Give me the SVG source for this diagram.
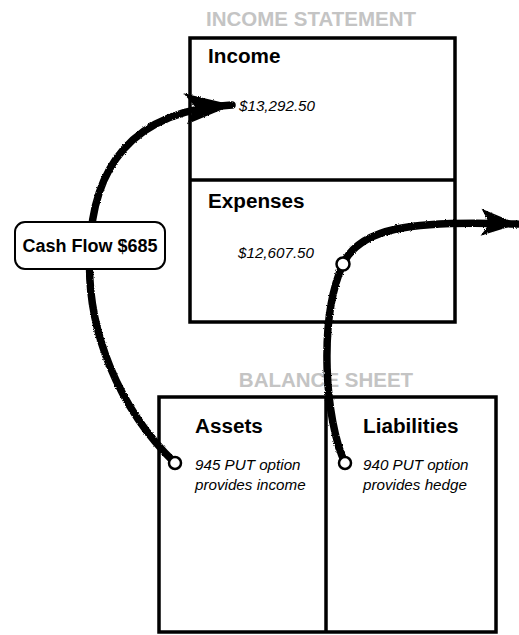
<svg xmlns="http://www.w3.org/2000/svg" width="519" height="635" viewBox="0 0 519 635">
<style>
.box{fill:none;stroke:#000;stroke-width:3.5}
.title{font-family:"Liberation Sans",Arial,sans-serif;font-weight:bold;font-size:20.5px;fill:#c4c4c4;text-anchor:middle}
.head{font-family:"Liberation Sans",Arial,sans-serif;font-weight:bold;font-size:20.7px;fill:#000}
.val{font-family:"Liberation Sans",Arial,sans-serif;font-style:italic;font-size:15.2px;fill:#000}
.lbl{font-family:"Liberation Sans",Arial,sans-serif;font-weight:bold;font-size:18px;fill:#000;text-anchor:middle}
.flow{fill:none;stroke:#000;stroke-width:7.5;stroke-linecap:round}
.dot{fill:#fff;stroke:#000;stroke-width:2.5}
</style>
<defs>
<filter id="rough" x="-20%" y="-20%" width="140%" height="140%">
<feTurbulence type="fractalNoise" baseFrequency="0.9" numOctaves="2" seed="3" result="n"/>
<feDisplacementMap in="SourceGraphic" in2="n" scale="2.5" xChannelSelector="R" yChannelSelector="G"/>
</filter>
<marker id="headA" markerUnits="userSpaceOnUse" viewBox="-52 -20 54 40" refX="0" refY="0" markerWidth="54" markerHeight="40" orient="auto">
<path d="M1,0 L-48,-14 Q-40,-4 -37,0 Q-40,6 -46,17 Z" fill="#000"/>
</marker>
<marker id="headB" markerUnits="userSpaceOnUse" viewBox="-52 -20 54 40" refX="0" refY="0" markerWidth="54" markerHeight="40" orient="auto">
<path d="M1,0 L-36,-14 Q-30,-4 -28,0 Q-30,5 -36,13 Z" fill="#000"/>
</marker>
</defs>
<rect width="519" height="635" fill="#fff"/>

<g id="income-statement">
<text class="title" x="311" y="26">INCOME STATEMENT</text>
<rect class="box" x="190" y="38" width="265" height="284"/>
<line class="box" x1="190" y1="180" x2="455" y2="180"/>
</g>
<g id="income">
<text class="head" x="208" y="63">Income</text>
<text class="val" x="239" y="111">$13,292.50</text>
</g>
<g id="expenses">
<text class="head" x="208" y="208">Expenses</text>
<text class="val" x="238" y="258">$12,607.50</text>
</g>

<g id="balance-sheet">
<text class="title" x="326" y="387">BALANCE SHEET</text>
<rect class="box" x="159" y="397" width="337" height="235"/>
<line class="box" x1="326" y1="397" x2="326" y2="632"/>
</g>
<g id="assets">
<text class="head" x="195" y="433">Assets</text>
<text class="val" x="195" y="470">945 PUT option</text>
<text class="val" x="195" y="490">provides income</text>
</g>
<g id="liabilities">
<text class="head" x="363" y="433">Liabilities</text>
<text class="val" x="363" y="470">940 PUT option</text>
<text class="val" x="363" y="490">provides hedge</text>
</g>

<g id="connectors">
<path class="flow" filter="url(#rough)" marker-end="url(#headA)" d="M175,463 C120,410 85,330 90,250 C92,170 130,110 232,105"/>
<path class="flow" filter="url(#rough)" marker-end="url(#headB)" d="M345,463 C325,420 318,320 343,264 C360,228 410,220 517,224"/>
<circle class="dot" cx="175" cy="463" r="6"/>
<circle class="dot" cx="345" cy="463" r="6"/>
<circle class="dot" cx="343" cy="264" r="6.5"/>
</g>

<g id="cash-flow-label">
<rect x="15" y="222" width="150" height="47" rx="10" fill="#fff" stroke="#000" stroke-width="2"/>
<text class="lbl" x="90" y="252">Cash Flow $685</text>
</g>
</svg>
